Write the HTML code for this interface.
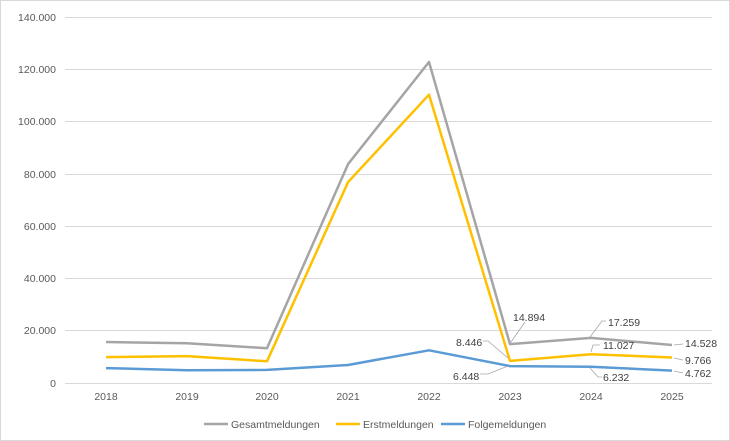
<!DOCTYPE html><html><head><style>body{margin:0;background:#fff}svg{display:block;font-family:"Liberation Sans",sans-serif}</style></head><body>
<svg width="730" height="441" viewBox="0 0 730 441">
<rect x="0.5" y="0.5" width="729" height="440" fill="#fff" stroke="#d9d9d9"/>
<g stroke="#d9d9d9" stroke-width="1">
<line x1="65" x2="712" y1="17.5" y2="17.5"/><line x1="65" x2="712" y1="69.5" y2="69.5"/><line x1="65" x2="712" y1="121.5" y2="121.5"/><line x1="65" x2="712" y1="174.5" y2="174.5"/><line x1="65" x2="712" y1="226.5" y2="226.5"/><line x1="65" x2="712" y1="278.5" y2="278.5"/><line x1="65" x2="712" y1="330.5" y2="330.5"/><line x1="65" x2="712" y1="383.5" y2="383.5"/>
</g>
<g font-size="10.5" fill="#595959" text-anchor="end">
<text x="56" y="21">140.000</text><text x="56" y="73">120.000</text><text x="56" y="125">100.000</text><text x="56" y="178">80.000</text><text x="56" y="230">60.000</text><text x="56" y="282">40.000</text><text x="56" y="334">20.000</text><text x="56" y="387">0</text>
</g>
<g font-size="10.5" fill="#595959" text-anchor="middle">
<text x="106" y="400">2018</text><text x="187" y="400">2019</text><text x="267" y="400">2020</text><text x="348" y="400">2021</text><text x="429" y="400">2022</text><text x="510" y="400">2023</text><text x="591" y="400">2024</text><text x="672" y="400">2025</text>
</g>
<g fill="none" stroke-width="2.5" stroke-linejoin="round">
<polyline stroke="#a5a5a5" points="106,342 187,343.3 267,348.2 348,164.2 429,62 510,344.1 591,337.9 672,345"/>
<polyline stroke="#ffc000" points="106,357.1 187,356.1 267,361.3 348,182.2 429,94.7 510,360.9 591,354.2 672,357.5"/>
<polyline stroke="#5b9bd5" points="106,368.1 187,370.2 267,369.9 348,365 429,350.3 510,366.1 591,366.7 672,370.6"/>
</g>
<g stroke="#a6a6a6" stroke-width="0.8" fill="none">
<polyline points="511,342 525,322"/>
<polyline points="483,341 488,341 508,358"/>
<polyline points="480,374 488,374 508,366"/>
<polyline points="590,337 602,321 606,321"/>
<polyline points="591,352 593,345 600,345"/>
<polyline points="590,368 598,377 602,377"/>
<polyline points="674,345 683,344"/>
<polyline points="674,358 683,360"/>
<polyline points="674,371 683,373"/>
</g>
<g font-size="10.5" fill="#404040">
<text x="513" y="321">14.894</text>
<text x="456" y="346">8.446</text>
<text x="453" y="380">6.448</text>
<text x="608" y="326">17.259</text>
<text x="603" y="349">11.027</text>
<text x="603" y="381">6.232</text>
<text x="685" y="347">14.528</text>
<text x="685" y="364">9.766</text>
<text x="685" y="377">4.762</text>
</g>
<g stroke-width="2.5">
<line x1="204" x2="228" y1="424" y2="424" stroke="#a5a5a5"/>
<line x1="336" x2="360" y1="424" y2="424" stroke="#ffc000"/>
<line x1="441" x2="465" y1="424" y2="424" stroke="#5b9bd5"/>
</g>
<g font-size="10.5" fill="#595959">
<text x="231" y="428">Gesamtmeldungen</text>
<text x="363" y="428">Erstmeldungen</text>
<text x="468" y="428">Folgemeldungen</text>
</g>
</svg>
</body></html>
